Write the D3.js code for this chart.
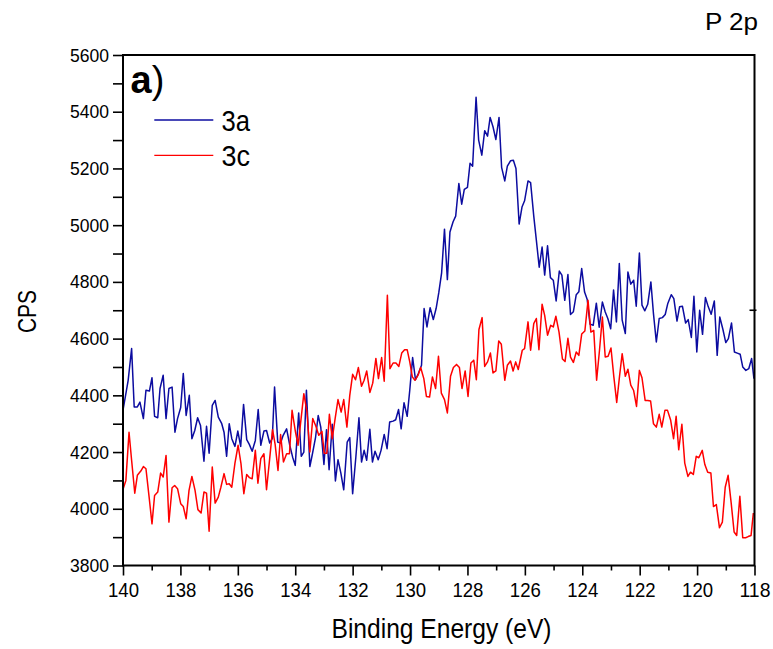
<!DOCTYPE html>
<html>
<head>
<meta charset="utf-8">
<script src="https://cdn.jsdelivr.net/npm/d3@7"></script>
<style>
  html, body { margin: 0; padding: 0; background: #fff; }
  svg { display: block; font-family: "Liberation Sans", Arial, sans-serif; }
</style>
</head>
<body>
<svg id="chart" width="773" height="649"></svg>
<script>
// P 2p XPS spectra, binding energy (eV) vs counts per second
const blueEnergy = [139.99,139.82,139.70,139.61,139.50,139.41,139.29,139.20,139.08,138.99,138.90,138.79,138.71,138.60,138.50,138.40,138.29,138.19,138.10,137.99,137.90,137.80,137.69,137.60,137.50,137.40,137.30,137.18,137.09,137.00,136.89,136.79,136.68,136.56,136.48,136.39,136.30,136.21,136.10,136.00,135.90,135.80,135.69,135.60,135.50,135.39,135.29,135.20,135.09,135.00,134.89,134.80,134.72,134.61,134.51,134.42,134.30,134.19,134.09,134.00,133.88,133.79,133.70,133.61,133.49,133.40,133.29,133.20,133.11,133.00,132.91,132.82,132.71,132.60,132.51,132.41,132.31,132.19,132.10,132.00,131.89,131.78,131.69,131.60,131.51,131.40,131.31,131.22,131.11,131.01,130.90,130.80,130.71,130.59,130.50,130.40,130.31,130.21,130.10,130.01,129.91,129.81,129.71,129.60,129.51,129.41,129.30,129.19,129.09,129.00,128.90,128.80,128.70,128.61,128.50,128.41,128.30,128.20,128.11,128.00,127.91,127.82,127.70,127.61,127.50,127.40,127.30,127.21,127.11,127.01,126.90,126.81,126.70,126.61,126.50,126.40,126.31,126.20,126.10,126.01,125.89,125.80,125.69,125.60,125.50,125.40,125.31,125.21,125.11,125.01,124.91,124.80,124.71,124.61,124.50,124.41,124.31,124.21,124.12,124.02,123.92,123.83,123.73,123.62,123.51,123.41,123.30,123.20,123.11,123.01,122.91,122.81,122.71,122.61,122.50,122.41,122.31,122.21,122.12,122.01,121.92,121.82,121.72,121.61,121.52,121.42,121.32,121.21,121.11,121.02,120.90,120.81,120.70,120.61,120.51,120.40,120.31,120.20,120.11,120.01,119.91,119.81,119.71,119.61,119.51,119.40,119.30,119.21,119.10,119.00,118.91,118.80,118.70,118.60,118.50,118.41,118.30,118.20,118.10,118.02];
const blueCps = [4353,4453,4565,4359,4359,4376,4318,4418,4415,4462,4326,4321,4424,4471,4318,4424,4429,4270,4318,4357,4477,4329,4400,4247,4276,4321,4294,4168,4291,4196,4365,4382,4323,4300,4270,4185,4300,4247,4220,4274,4220,4368,4244,4227,4203,4241,4350,4224,4274,4276,4232,4247,4429,4235,4232,4259,4282,4224,4182,4153,4338,4185,4200,4418,4149,4194,4253,4329,4288,4156,4279,4138,4298,4098,4173,4126,4067,4235,4251,4053,4180,4321,4165,4206,4171,4280,4165,4203,4173,4206,4262,4212,4306,4309,4314,4350,4282,4374,4326,4418,4533,4455,4477,4506,4706,4641,4709,4667,4707,4761,4832,4986,4808,4976,5012,5032,5147,5074,5126,5133,5218,5208,5451,5300,5247,5333,5314,5380,5347,5302,5380,5204,5156,5208,5227,5229,5200,5004,5064,5086,5156,5150,5032,4947,4852,4923,4824,4927,4815,4806,4733,4838,4824,4735,4826,4685,4695,4755,4765,4847,4764,4739,4651,4647,4725,4640,4729,4694,4671,4635,4771,4659,4865,4665,4618,4835,4792,4806,4714,4902,4718,4698,4721,4800,4688,4588,4671,4674,4685,4724,4755,4741,4662,4712,4714,4655,4667,4604,4749,4553,4700,4615,4745,4712,4686,4733,4541,4676,4632,4586,4600,4655,4553,4549,4545,4500,4488,4494,4530,4459];

const redEnergy = [139.99,139.90,139.79,139.70,139.59,139.50,139.38,139.29,139.20,139.09,138.99,138.90,138.79,138.69,138.60,138.50,138.40,138.29,138.20,138.10,137.99,137.90,137.80,137.70,137.60,137.49,137.39,137.28,137.18,137.09,137.00,136.89,136.79,136.68,136.59,136.48,136.39,136.30,136.21,136.10,135.99,135.89,135.79,135.69,135.60,135.50,135.39,135.30,135.20,135.09,135.00,134.89,134.79,134.70,134.60,134.51,134.41,134.30,134.20,134.11,134.00,133.90,133.79,133.70,133.59,133.49,133.39,133.28,133.18,133.07,132.99,132.90,132.81,132.71,132.61,132.51,132.40,132.31,132.20,132.10,132.00,131.90,131.80,131.69,131.60,131.51,131.40,131.30,131.19,131.10,130.99,130.90,130.79,130.70,130.59,130.49,130.39,130.29,130.19,130.10,130.01,129.92,129.83,129.72,129.63,129.52,129.43,129.32,129.22,129.11,129.01,128.91,128.80,128.70,128.59,128.49,128.38,128.28,128.19,128.08,127.98,127.88,127.78,127.69,127.60,127.49,127.40,127.30,127.20,127.11,127.01,126.91,126.82,126.70,126.61,126.50,126.41,126.32,126.23,126.09,126.01,125.89,125.80,125.69,125.60,125.51,125.40,125.31,125.21,125.10,125.01,124.92,124.81,124.69,124.60,124.50,124.41,124.31,124.21,124.12,124.02,123.91,123.80,123.70,123.60,123.50,123.40,123.30,123.20,123.10,123.00,122.90,122.80,122.70,122.61,122.50,122.41,122.31,122.21,122.11,122.01,121.92,121.81,121.72,121.62,121.52,121.42,121.32,121.23,121.12,121.03,120.92,120.82,120.73,120.64,120.53,120.43,120.32,120.23,120.13,120.03,119.94,119.82,119.73,119.63,119.52,119.43,119.33,119.22,119.12,119.02,118.92,118.81,118.71,118.62,118.51,118.41,118.31,118.22,118.12,118.04];
const redCps = [4071,4100,4270,4171,4055,4118,4133,4149,4141,4041,3947,4047,4059,4126,4112,4188,3953,4074,4082,4071,4018,4008,3965,4065,4114,4065,3997,3985,4059,4055,3921,4147,4020,4041,4076,4124,4086,4088,4076,4161,4224,4159,4053,4121,4110,4106,4206,4090,4177,4194,4067,4177,4279,4227,4135,4262,4165,4194,4194,4347,4276,4224,4323,4406,4341,4200,4318,4291,4259,4273,4196,4196,4333,4247,4318,4385,4341,4385,4288,4400,4474,4455,4498,4432,4453,4486,4410,4443,4530,4459,4533,4450,4753,4494,4514,4514,4502,4549,4561,4561,4518,4465,4453,4471,4498,4459,4396,4394,4465,4424,4538,4408,4385,4338,4467,4498,4509,4498,4424,4486,4396,4514,4524,4455,4632,4674,4502,4518,4549,4479,4486,4592,4580,4453,4506,4521,4486,4518,4491,4559,4565,4659,4559,4653,4671,4561,4721,4682,4612,4647,4641,4679,4623,4528,4519,4601,4535,4516,4553,4541,4616,4627,4735,4623,4629,4453,4559,4676,4535,4538,4567,4465,4375,4469,4547,4467,4492,4436,4417,4361,4488,4462,4382,4382,4380,4300,4288,4333,4288,4347,4347,4312,4247,4326,4208,4298,4161,4114,4129,4121,4185,4180,4206,4156,4129,4126,4008,4015,3933,3953,4076,4118,4018,3918,3906,4044,3898,3898,3902,3906,3985];

const seriesNames = ["3a", "3c"];
const seriesColors = ["#0c0ca0", "#ff0000"];

const xMajorTicks = [140, 138, 136, 134, 132, 130, 128, 126, 124, 122, 120, 118];
const xMinorTicks = [139, 137, 135, 133, 131, 129, 127, 125, 123, 121, 119];
const yMajorTicks = [3800, 4000, 4200, 4400, 4600, 4800, 5000, 5200, 5400, 5600];
const yMinorTicks = [3900, 4100, 4300, 4500, 4700, 4900, 5100, 5300, 5500];

const plot = { left: 123, right: 754.5, top: 55, bottom: 565.5 };

const svg = d3.select("#chart");

const x = d3.scaleLinear().domain([140, 118]).range([plot.left, plot.right]);
const y = d3.scaleLinear().domain([3800, 5600]).range([plot.bottom, plot.top]);

svg.append("defs").append("clipPath").attr("id", "plot-clip")
  .append("rect")
  .attr("x", plot.left).attr("y", plot.top)
  .attr("width", plot.right - plot.left).attr("height", plot.bottom - plot.top);

const series = [
  d3.zip(blueEnergy, blueCps),
  d3.zip(redEnergy, redCps)
];

const line = d3.line().x(d => x(d[0])).y(d => y(d[1]));

const lines = svg.append("g").attr("clip-path", "url(#plot-clip)");
series.forEach((pts, i) => {
  lines.append("path")
    .datum(pts)
    .attr("fill", "none")
    .attr("stroke", seriesColors[i])
    .attr("stroke-width", 1.5)
    .attr("stroke-linejoin", "round")
    .attr("d", line);
});

// Axes: tick labels are drawn slightly condensed
function styleAxis(g, fontSize, labelWidth) {
  g.select(".domain").remove();
  g.selectAll(".tick line").attr("stroke", "#000").attr("stroke-width", 1.6);
  const t = g.selectAll(".tick text").attr("fill", "#000").attr("font-size", fontSize)
    .attr("font-family", "'Liberation Sans', Arial, sans-serif");
  if (labelWidth) t.attr("textLength", labelWidth).attr("lengthAdjust", "spacingAndGlyphs");
}

svg.append("g")
  .attr("transform", `translate(0,${plot.bottom})`)
  .call(d3.axisBottom(x).tickValues(xMinorTicks).tickSize(5).tickFormat(""))
  .call(g => styleAxis(g, 19));

svg.append("g")
  .attr("transform", `translate(0,${plot.bottom})`)
  .call(d3.axisBottom(x).tickValues(xMajorTicks).tickSize(10).tickPadding(7).tickFormat(d3.format("d")))
  .call(g => styleAxis(g, 20, 31));

svg.append("g")
  .attr("transform", `translate(${plot.left},0)`)
  .call(d3.axisLeft(y).tickValues(yMinorTicks).tickSize(10).tickFormat(""))
  .call(g => styleAxis(g, 18.5));

svg.append("g")
  .attr("transform", `translate(${plot.left},0)`)
  .call(d3.axisLeft(y).tickValues(yMajorTicks).tickSize(10).tickPadding(4).tickFormat(d3.format("d")))
  .call(g => styleAxis(g, 19, 39));

// single tick on the right axis
svg.append("line")
  .attr("x1", plot.right - 5).attr("x2", plot.right + 2)
  .attr("y1", y(4700)).attr("y2", y(4700))
  .attr("stroke", "#000").attr("stroke-width", 1.6);

// Frame
svg.append("rect")
  .attr("x", plot.left).attr("y", plot.top)
  .attr("width", plot.right - plot.left).attr("height", plot.bottom - plot.top)
  .attr("fill", "none").attr("stroke", "#000").attr("stroke-width", 2);

// Axis titles
svg.append("text")
  .attr("x", 441.5).attr("y", 638)
  .attr("text-anchor", "middle")
  .attr("font-size", 27)
  .attr("textLength", 220).attr("lengthAdjust", "spacingAndGlyphs")
  .text("Binding Energy (eV)");

svg.append("text")
  .attr("transform", "translate(36,311.5) rotate(-90)")
  .attr("text-anchor", "middle")
  .attr("font-size", 26)
  .attr("textLength", 43).attr("lengthAdjust", "spacingAndGlyphs")
  .text("CPS");

// Panel label and region label
const panel = svg.append("text").attr("x", 130.5).attr("y", 93).attr("font-size", 38);
panel.append("tspan").attr("font-weight", "bold").text("a");
panel.append("tspan").text(")");

svg.append("text")
  .attr("x", 705).attr("y", 30)
  .attr("font-size", 24)
  .attr("textLength", 53).attr("lengthAdjust", "spacingAndGlyphs")
  .text("P 2p");

// Legend
const legendY = [120, 155.3];
const labelY = [130.7, 165.7];
seriesNames.forEach((name, i) => {
  svg.append("line")
    .attr("x1", 154.3).attr("x2", 213.3)
    .attr("y1", legendY[i]).attr("y2", legendY[i])
    .attr("stroke", seriesColors[i]).attr("stroke-width", 1.3);
  svg.append("text")
    .attr("x", 221.5).attr("y", labelY[i])
    .attr("font-size", 30)
    .attr("textLength", 28.5).attr("lengthAdjust", "spacingAndGlyphs")
    .text(name);
});
</script>
</body>
</html>
